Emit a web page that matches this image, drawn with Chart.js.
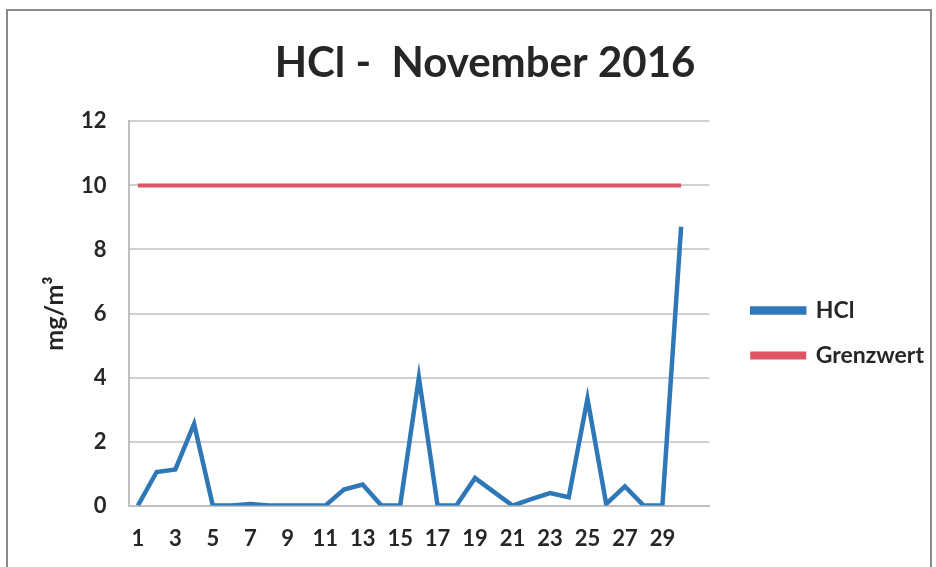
<!DOCTYPE html>
<html>
<head>
<meta charset="utf-8">
<script src="https://cdn.jsdelivr.net/npm/chart.js@4.4.1/dist/chart.umd.min.js"></script>
<style>
  html, body { margin: 0; padding: 0; background: #fff; }
  #frame { position: absolute; left: 6px; top: 9px; width: 926px; height: 570px;
           border: 2px solid #8a8a8a; border-bottom: none; box-sizing: border-box; }
  #wrap { position: absolute; left: 0; top: 0; width: 936px; height: 567px; }
</style>
</head>
<body>
<div id="frame"></div>
<div id="wrap"><canvas id="line_chart"></canvas></div>
<script>
var days = ['1','2','3','4','5','6','7','8','9','10','11','12','13','14','15','16','17','18','19','20',
            '21','22','23','24','25','26','27','28','29','30',''];
var hclValues = [0, 1.05, 1.13, 2.55, 0, 0, 0.05, 0, 0, 0, 0, 0.5, 0.66, 0, 0, 4.0, 0, 0, 0.86, 0.43,
                 0, 0.2, 0.39, 0.26, 3.34, 0.05, 0.6, 0, 0, 8.71];
var grenzwert = [10, 10, 10, 10, 10, 10, 10, 10, 10, 10, 10, 10, 10, 10, 10, 10, 10, 10, 10, 10,
                 10, 10, 10, 10, 10, 10, 10, 10, 10, 10];
var yTicks = [0, 2, 4, 6, 8, 10, 12];

var fontFam = "Lato, 'Open Sans', sans-serif";

var chart = new Chart(document.getElementById("line_chart").getContext("2d"), {
  type: "line",
  data: {
    labels: days,
    datasets: [{
      label: "HCl",
      data: hclValues,
      borderColor: '#2f78b7',
      backgroundColor: '#2f78b7',
      borderWidth: 4.5,
      pointRadius: 0,
      tension: 0
    }, {
      label: "Grenzwert",
      data: grenzwert,
      borderColor: '#de5563',
      backgroundColor: '#de5563',
      borderWidth: 4,
      pointRadius: 0,
      tension: 0
    }]
  },
  options: {
    responsive: true,
    maintainAspectRatio: false,
    animation: false,
    layout: { padding: { left: 36, right: 2, top: 34, bottom: -5 } },
    plugins: {
      title: {
        display: true,
        text: 'HCl -  November 2016',
        color: '#262626',
        font: { family: fontFam, size: 42, weight: 'bold' },
        padding: { top: 4, bottom: 33 }
      },
      legend: {
        position: 'right',
        align: 'center',
        maxWidth: 300,
        // blank title only pushes the entries down a bit
        title: { display: true, text: ' ', padding: 18, font: { size: 20 } },
        labels: {
          boxWidth: 52,
          boxHeight: 4,
          color: '#262626',
          padding: 22,
          font: { family: fontFam, size: 23, weight: 'bold' }
        }
      },
      tooltip: { enabled: false }
    },
    scales: {
      x: {
        offset: true,
        grid: { display: false, drawTicks: false },
        border: { display: true, color: '#bfbfbf', width: 2 },
        ticks: {
          autoSkip: false,
          maxRotation: 0,
          padding: 20,
          color: '#262626',
          font: { family: fontFam, size: 22, weight: 'bold' },
          callback: function(val, index) {
            return index % 2 === 0 ? days[index] : '';
          }
        }
      },
      y: {
        min: 0,
        max: 12,
        afterBuildTicks: function(axis) {
          axis.ticks = yTicks.map(function(v) { return { value: v }; });
        },
        title: {
          display: true,
          text: 'mg/m³',
          color: '#262626',
          font: { family: fontFam, size: 25, weight: 'bold' },
          padding: { top: 4, bottom: -11 }
        },
        grid: { color: '#d0d0d0', lineWidth: 2, drawTicks: false },
        border: { display: true, color: '#bfbfbf', width: 2 },
        ticks: {
          padding: 22,
          color: '#262626',
          font: { family: fontFam, size: 22, weight: 'bold' }
        }
      },
      // empty right axis, only to keep a gap between plot and legend
      gap: {
        position: 'right',
        min: 0,
        max: 12,
        grid: { display: false, drawTicks: false },
        border: { display: false },
        ticks: { display: false },
        afterFit: function(axis) { axis.width = 21; }
      }
    }
  }
});
</script>
</body>
</html>
